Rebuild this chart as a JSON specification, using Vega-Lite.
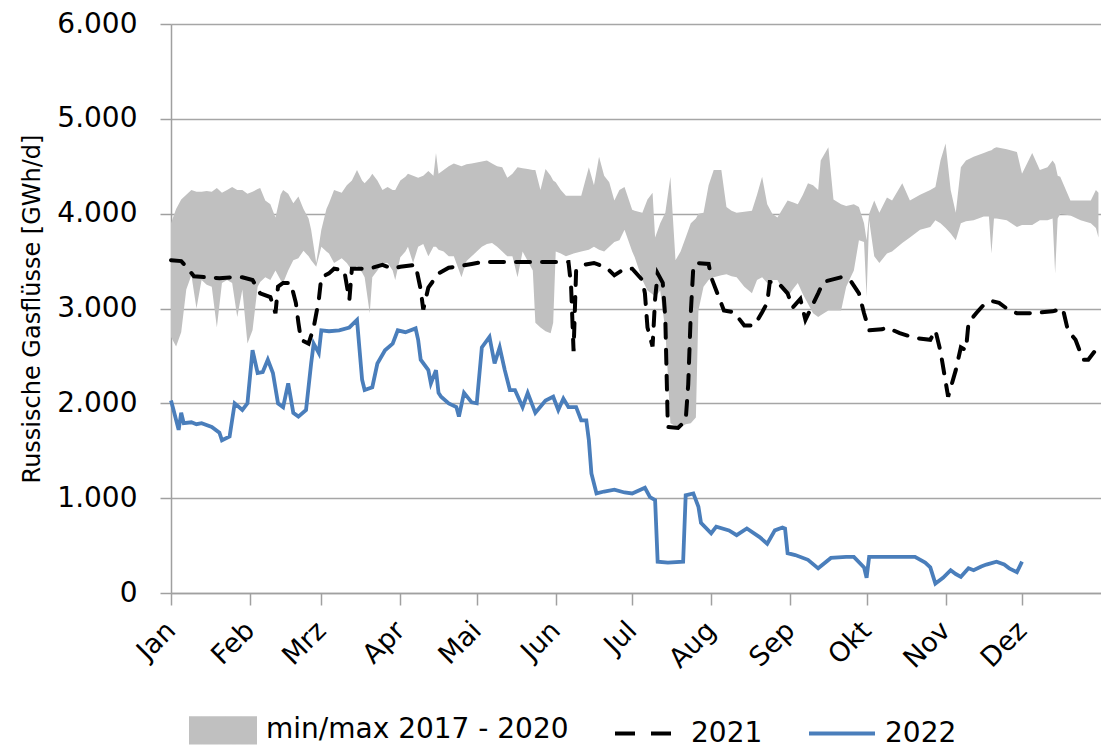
{
  "$schema": "https://vega.github.io/schema/vega-lite/v6.json",
  "width": 930,
  "height": 569,
  "autosize": "none",
  "padding": {"left": 171, "top": 24, "right": 0, "bottom": 159},
  "background": "white",
  "config": {
    "view": {"stroke": null},
    "font": "DejaVu Sans",
    "axis": {"labelColor": "#000000", "titleColor": "#000000", "domainColor": "#a0a0a0", "tickColor": "#a0a0a0", "gridColor": "#a6a6a6", "domainWidth": 1.5, "tickWidth": 1.5, "gridWidth": 1.5, "labelFont": "DejaVu Sans", "titleFont": "DejaVu Sans"},
    "legend": {
      "orient": "none", "legendX": 17, "legendY": 671, "direction": "horizontal", "padding": 0,
      "labelFont": "DejaVu Sans", "labelFontSize": 28, "labelColor": "#000000", "labelOffset": 8, "labelLimit": 0,
      "columnPadding": 38, "symbolSize": 4356, "symbolStrokeWidth": 4
    }
  },
  "datasets": {
    "band": [
      {"d": "2022-01-01", "lo": 2700, "hi": 3900},
      {"d": "2022-01-03", "lo": 2600, "hi": 4050},
      {"d": "2022-01-05", "lo": 2750, "hi": 4150},
      {"d": "2022-01-07", "lo": 3200, "hi": 4200},
      {"d": "2022-01-09", "lo": 3350, "hi": 4250},
      {"d": "2022-01-11", "lo": 3000, "hi": 4230},
      {"d": "2022-01-13", "lo": 3300, "hi": 4230},
      {"d": "2022-01-15", "lo": 3250, "hi": 4240},
      {"d": "2022-01-17", "lo": 3230, "hi": 4230},
      {"d": "2022-01-19", "lo": 2800, "hi": 4270},
      {"d": "2022-01-21", "lo": 3270, "hi": 4220},
      {"d": "2022-01-23", "lo": 3300, "hi": 4250},
      {"d": "2022-01-25", "lo": 3270, "hi": 4280},
      {"d": "2022-01-27", "lo": 2910, "hi": 4250},
      {"d": "2022-01-29", "lo": 3200, "hi": 4250},
      {"d": "2022-01-31", "lo": 2630, "hi": 4210},
      {"d": "2022-02-02", "lo": 2770, "hi": 4230},
      {"d": "2022-02-04", "lo": 3230, "hi": 4260},
      {"d": "2022-02-05", "lo": 3280, "hi": 4270},
      {"d": "2022-02-07", "lo": 3330, "hi": 4140},
      {"d": "2022-02-09", "lo": 3300, "hi": 4100},
      {"d": "2022-02-11", "lo": 3400, "hi": 3960},
      {"d": "2022-02-13", "lo": 3300, "hi": 4200},
      {"d": "2022-02-14", "lo": 3270, "hi": 4250},
      {"d": "2022-02-16", "lo": 3400, "hi": 4210},
      {"d": "2022-02-18", "lo": 3510, "hi": 4110},
      {"d": "2022-02-20", "lo": 3530, "hi": 4180},
      {"d": "2022-02-22", "lo": 3610, "hi": 4050},
      {"d": "2022-02-24", "lo": 3550, "hi": 3950},
      {"d": "2022-02-25", "lo": 3510, "hi": 3830},
      {"d": "2022-02-27", "lo": 3440, "hi": 3480},
      {"d": "2022-03-01", "lo": 3650, "hi": 3830},
      {"d": "2022-03-03", "lo": 3600, "hi": 4050},
      {"d": "2022-03-04", "lo": 3580, "hi": 4110},
      {"d": "2022-03-06", "lo": 3480, "hi": 4250},
      {"d": "2022-03-09", "lo": 3530, "hi": 4220},
      {"d": "2022-03-11", "lo": 3480, "hi": 4300},
      {"d": "2022-03-13", "lo": 3400, "hi": 4350},
      {"d": "2022-03-15", "lo": 3450, "hi": 4460},
      {"d": "2022-03-17", "lo": 3380, "hi": 4350},
      {"d": "2022-03-18", "lo": 3330, "hi": 4320},
      {"d": "2022-03-20", "lo": 2950, "hi": 4380},
      {"d": "2022-03-21", "lo": 3330, "hi": 4420},
      {"d": "2022-03-23", "lo": 3400, "hi": 4350},
      {"d": "2022-03-25", "lo": 3480, "hi": 4250},
      {"d": "2022-03-27", "lo": 3480, "hi": 4280},
      {"d": "2022-03-29", "lo": 3400, "hi": 4250},
      {"d": "2022-03-30", "lo": 3300, "hi": 4250},
      {"d": "2022-04-01", "lo": 3540, "hi": 4350},
      {"d": "2022-04-03", "lo": 3600, "hi": 4390},
      {"d": "2022-04-04", "lo": 3650, "hi": 4420},
      {"d": "2022-04-06", "lo": 3480, "hi": 4400},
      {"d": "2022-04-08", "lo": 3650, "hi": 4380},
      {"d": "2022-04-10", "lo": 3680, "hi": 4400},
      {"d": "2022-04-12", "lo": 3550, "hi": 4450},
      {"d": "2022-04-14", "lo": 3650, "hi": 4400},
      {"d": "2022-04-15", "lo": 3650, "hi": 4640},
      {"d": "2022-04-16", "lo": 3620, "hi": 4420},
      {"d": "2022-04-18", "lo": 3600, "hi": 4460},
      {"d": "2022-04-20", "lo": 3550, "hi": 4500},
      {"d": "2022-04-22", "lo": 3550, "hi": 4530},
      {"d": "2022-04-25", "lo": 3330, "hi": 4500},
      {"d": "2022-04-27", "lo": 3500, "hi": 4520},
      {"d": "2022-04-29", "lo": 3550, "hi": 4530},
      {"d": "2022-05-01", "lo": 3600, "hi": 4540},
      {"d": "2022-05-03", "lo": 3650, "hi": 4550},
      {"d": "2022-05-05", "lo": 3680, "hi": 4560},
      {"d": "2022-05-07", "lo": 3690, "hi": 4530},
      {"d": "2022-05-09", "lo": 3650, "hi": 4500},
      {"d": "2022-05-11", "lo": 3600, "hi": 4490},
      {"d": "2022-05-13", "lo": 3550, "hi": 4380},
      {"d": "2022-05-15", "lo": 3550, "hi": 4420},
      {"d": "2022-05-17", "lo": 3330, "hi": 4490},
      {"d": "2022-05-19", "lo": 3600, "hi": 4480},
      {"d": "2022-05-21", "lo": 3500, "hi": 4470},
      {"d": "2022-05-23", "lo": 3400, "hi": 4460},
      {"d": "2022-05-24", "lo": 2850, "hi": 4460},
      {"d": "2022-05-26", "lo": 2800, "hi": 4250},
      {"d": "2022-05-28", "lo": 2760, "hi": 4470},
      {"d": "2022-05-30", "lo": 2740, "hi": 4400},
      {"d": "2022-05-31", "lo": 2850, "hi": 4350},
      {"d": "2022-06-01", "lo": 3600, "hi": 4330},
      {"d": "2022-06-03", "lo": 3580, "hi": 4250},
      {"d": "2022-06-05", "lo": 3550, "hi": 4190},
      {"d": "2022-06-08", "lo": 3580, "hi": 4190},
      {"d": "2022-06-11", "lo": 3600, "hi": 4190},
      {"d": "2022-06-14", "lo": 3620, "hi": 4490},
      {"d": "2022-06-16", "lo": 3650, "hi": 4300},
      {"d": "2022-06-18", "lo": 3620, "hi": 4600},
      {"d": "2022-06-20", "lo": 3600, "hi": 4400},
      {"d": "2022-06-22", "lo": 3650, "hi": 4330},
      {"d": "2022-06-24", "lo": 3700, "hi": 4140},
      {"d": "2022-06-26", "lo": 3720, "hi": 4250},
      {"d": "2022-06-28", "lo": 3830, "hi": 4280},
      {"d": "2022-07-01", "lo": 3600, "hi": 4040},
      {"d": "2022-07-02", "lo": 3540, "hi": 4030},
      {"d": "2022-07-05", "lo": 3300, "hi": 4010},
      {"d": "2022-07-07", "lo": 3190, "hi": 4150},
      {"d": "2022-07-09", "lo": 3150, "hi": 4220},
      {"d": "2022-07-10", "lo": 3120, "hi": 3750},
      {"d": "2022-07-12", "lo": 3190, "hi": 3900},
      {"d": "2022-07-14", "lo": 2770, "hi": 4010},
      {"d": "2022-07-15", "lo": 2300, "hi": 4200},
      {"d": "2022-07-16", "lo": 1790, "hi": 4390},
      {"d": "2022-07-18", "lo": 1760, "hi": 3510},
      {"d": "2022-07-20", "lo": 1750, "hi": 3600},
      {"d": "2022-07-22", "lo": 1780, "hi": 3750},
      {"d": "2022-07-24", "lo": 1790, "hi": 3900},
      {"d": "2022-07-26", "lo": 1850, "hi": 3950},
      {"d": "2022-07-27", "lo": 2980, "hi": 4000},
      {"d": "2022-07-29", "lo": 3230, "hi": 4010},
      {"d": "2022-07-31", "lo": 3300, "hi": 4300},
      {"d": "2022-08-02", "lo": 3330, "hi": 4460},
      {"d": "2022-08-05", "lo": 3350, "hi": 4460},
      {"d": "2022-08-07", "lo": 3360, "hi": 4070},
      {"d": "2022-08-09", "lo": 3340, "hi": 4030},
      {"d": "2022-08-11", "lo": 3330, "hi": 4010},
      {"d": "2022-08-14", "lo": 3230, "hi": 4020},
      {"d": "2022-08-17", "lo": 3160, "hi": 4030},
      {"d": "2022-08-19", "lo": 3300, "hi": 4200},
      {"d": "2022-08-21", "lo": 3330, "hi": 4390},
      {"d": "2022-08-23", "lo": 3270, "hi": 4100},
      {"d": "2022-08-25", "lo": 3300, "hi": 4000},
      {"d": "2022-08-27", "lo": 3300, "hi": 3960},
      {"d": "2022-08-29", "lo": 3200, "hi": 4050},
      {"d": "2022-08-31", "lo": 3120, "hi": 4140},
      {"d": "2022-09-02", "lo": 3200, "hi": 4120},
      {"d": "2022-09-04", "lo": 3270, "hi": 4100},
      {"d": "2022-09-06", "lo": 3150, "hi": 4200},
      {"d": "2022-09-08", "lo": 3050, "hi": 4320},
      {"d": "2022-09-10", "lo": 2950, "hi": 4300},
      {"d": "2022-09-12", "lo": 2910, "hi": 4250},
      {"d": "2022-09-13", "lo": 2930, "hi": 4560},
      {"d": "2022-09-16", "lo": 2980, "hi": 4700},
      {"d": "2022-09-18", "lo": 2980, "hi": 4150},
      {"d": "2022-09-21", "lo": 2980, "hi": 4100},
      {"d": "2022-09-23", "lo": 3230, "hi": 4080},
      {"d": "2022-09-26", "lo": 3400, "hi": 4100},
      {"d": "2022-09-28", "lo": 3720, "hi": 4070},
      {"d": "2022-09-30", "lo": 3700, "hi": 3900},
      {"d": "2022-10-01", "lo": 3120, "hi": 3720},
      {"d": "2022-10-02", "lo": 3930, "hi": 4000},
      {"d": "2022-10-04", "lo": 3550, "hi": 4140},
      {"d": "2022-10-06", "lo": 3480, "hi": 4010},
      {"d": "2022-10-09", "lo": 3580, "hi": 4170},
      {"d": "2022-10-11", "lo": 3600, "hi": 4140},
      {"d": "2022-10-15", "lo": 3690, "hi": 4320},
      {"d": "2022-10-18", "lo": 3750, "hi": 4140},
      {"d": "2022-10-22", "lo": 3830, "hi": 4200},
      {"d": "2022-10-26", "lo": 3860, "hi": 4250},
      {"d": "2022-10-28", "lo": 3930, "hi": 4280},
      {"d": "2022-10-30", "lo": 3900, "hi": 4560},
      {"d": "2022-11-01", "lo": 3850, "hi": 4740},
      {"d": "2022-11-03", "lo": 3790, "hi": 4250},
      {"d": "2022-11-05", "lo": 3720, "hi": 4010},
      {"d": "2022-11-07", "lo": 3900, "hi": 4490},
      {"d": "2022-11-09", "lo": 3920, "hi": 4560},
      {"d": "2022-11-12", "lo": 3930, "hi": 4600},
      {"d": "2022-11-16", "lo": 3970, "hi": 4640},
      {"d": "2022-11-18", "lo": 3970, "hi": 4660},
      {"d": "2022-11-19", "lo": 3580, "hi": 4670},
      {"d": "2022-11-20", "lo": 3950, "hi": 4690},
      {"d": "2022-11-21", "lo": 3950, "hi": 4700},
      {"d": "2022-11-25", "lo": 3930, "hi": 4680},
      {"d": "2022-11-29", "lo": 3860, "hi": 4650},
      {"d": "2022-12-01", "lo": 3880, "hi": 4420},
      {"d": "2022-12-05", "lo": 3880, "hi": 4640},
      {"d": "2022-12-08", "lo": 3930, "hi": 4460},
      {"d": "2022-12-11", "lo": 3930, "hi": 4490},
      {"d": "2022-12-13", "lo": 3950, "hi": 4560},
      {"d": "2022-12-14", "lo": 3370, "hi": 4520},
      {"d": "2022-12-15", "lo": 3950, "hi": 4400},
      {"d": "2022-12-16", "lo": 4000, "hi": 4390},
      {"d": "2022-12-20", "lo": 3980, "hi": 4140},
      {"d": "2022-12-24", "lo": 3930, "hi": 4140},
      {"d": "2022-12-28", "lo": 3900, "hi": 4140},
      {"d": "2022-12-30", "lo": 3850, "hi": 4250},
      {"d": "2022-12-31", "lo": 3750, "hi": 4220}
    ],
    "y2021": [
      {"d": "2022-01-01", "v": 3510},
      {"d": "2022-01-05", "v": 3500},
      {"d": "2022-01-07", "v": 3440},
      {"d": "2022-01-10", "v": 3340},
      {"d": "2022-01-15", "v": 3330},
      {"d": "2022-01-20", "v": 3320},
      {"d": "2022-01-25", "v": 3330},
      {"d": "2022-01-29", "v": 3330},
      {"d": "2022-02-02", "v": 3300},
      {"d": "2022-02-05", "v": 3160},
      {"d": "2022-02-09", "v": 3120},
      {"d": "2022-02-11", "v": 2950},
      {"d": "2022-02-12", "v": 3230},
      {"d": "2022-02-14", "v": 3270},
      {"d": "2022-02-17", "v": 3270},
      {"d": "2022-02-19", "v": 3060},
      {"d": "2022-02-20", "v": 2850},
      {"d": "2022-02-21", "v": 2670},
      {"d": "2022-02-24", "v": 2630},
      {"d": "2022-02-26", "v": 2800},
      {"d": "2022-02-28", "v": 3090},
      {"d": "2022-03-01", "v": 3330},
      {"d": "2022-03-04", "v": 3370},
      {"d": "2022-03-06", "v": 3420},
      {"d": "2022-03-10", "v": 3400},
      {"d": "2022-03-12", "v": 3090},
      {"d": "2022-03-13", "v": 3420},
      {"d": "2022-03-17", "v": 3420},
      {"d": "2022-03-21", "v": 3430},
      {"d": "2022-03-25", "v": 3460},
      {"d": "2022-03-29", "v": 3420},
      {"d": "2022-04-01", "v": 3440},
      {"d": "2022-04-07", "v": 3460},
      {"d": "2022-04-09", "v": 3200},
      {"d": "2022-04-10", "v": 2990},
      {"d": "2022-04-12", "v": 3220},
      {"d": "2022-04-16", "v": 3370},
      {"d": "2022-04-20", "v": 3430},
      {"d": "2022-04-25", "v": 3450},
      {"d": "2022-04-29", "v": 3470},
      {"d": "2022-05-03", "v": 3490},
      {"d": "2022-05-31", "v": 3490},
      {"d": "2022-06-06", "v": 3490},
      {"d": "2022-06-07", "v": 3250},
      {"d": "2022-06-08", "v": 2550},
      {"d": "2022-06-09", "v": 3400},
      {"d": "2022-06-12", "v": 3460},
      {"d": "2022-06-16", "v": 3480},
      {"d": "2022-06-21", "v": 3430},
      {"d": "2022-06-24", "v": 3350},
      {"d": "2022-06-28", "v": 3420},
      {"d": "2022-07-01", "v": 3420},
      {"d": "2022-07-05", "v": 3300},
      {"d": "2022-07-06", "v": 3160},
      {"d": "2022-07-07", "v": 2800},
      {"d": "2022-07-09", "v": 2600},
      {"d": "2022-07-10", "v": 3100},
      {"d": "2022-07-11", "v": 3370},
      {"d": "2022-07-13", "v": 3270},
      {"d": "2022-07-14", "v": 2900},
      {"d": "2022-07-15", "v": 1750},
      {"d": "2022-07-19", "v": 1740},
      {"d": "2022-07-22", "v": 1820},
      {"d": "2022-07-23", "v": 2200},
      {"d": "2022-07-24", "v": 2950},
      {"d": "2022-07-25", "v": 3440},
      {"d": "2022-07-26", "v": 3480},
      {"d": "2022-07-31", "v": 3470},
      {"d": "2022-08-01", "v": 3330},
      {"d": "2022-08-03", "v": 3190},
      {"d": "2022-08-06", "v": 2980},
      {"d": "2022-08-10", "v": 2960},
      {"d": "2022-08-14", "v": 2820},
      {"d": "2022-08-18", "v": 2820},
      {"d": "2022-08-21", "v": 2960},
      {"d": "2022-08-23", "v": 3060},
      {"d": "2022-08-24", "v": 3280},
      {"d": "2022-08-27", "v": 3280},
      {"d": "2022-08-31", "v": 3160},
      {"d": "2022-09-02", "v": 3010},
      {"d": "2022-09-05", "v": 3100},
      {"d": "2022-09-07", "v": 2880},
      {"d": "2022-09-12", "v": 3160},
      {"d": "2022-09-14", "v": 3280},
      {"d": "2022-09-21", "v": 3330},
      {"d": "2022-09-25", "v": 3280},
      {"d": "2022-09-28", "v": 3160},
      {"d": "2022-09-30", "v": 2950},
      {"d": "2022-10-02", "v": 2770},
      {"d": "2022-10-07", "v": 2780},
      {"d": "2022-10-09", "v": 2800},
      {"d": "2022-10-14", "v": 2740},
      {"d": "2022-10-20", "v": 2690},
      {"d": "2022-10-26", "v": 2670},
      {"d": "2022-10-28", "v": 2770},
      {"d": "2022-10-30", "v": 2550},
      {"d": "2022-11-02", "v": 2070},
      {"d": "2022-11-05", "v": 2350},
      {"d": "2022-11-07", "v": 2590},
      {"d": "2022-11-09", "v": 2560},
      {"d": "2022-11-10", "v": 2850},
      {"d": "2022-11-13", "v": 2950},
      {"d": "2022-11-16", "v": 3040},
      {"d": "2022-11-19", "v": 3080},
      {"d": "2022-11-22", "v": 3060},
      {"d": "2022-11-26", "v": 2980},
      {"d": "2022-11-29", "v": 2950},
      {"d": "2022-12-04", "v": 2950},
      {"d": "2022-12-13", "v": 2970},
      {"d": "2022-12-17", "v": 3000},
      {"d": "2022-12-19", "v": 2770},
      {"d": "2022-12-22", "v": 2670},
      {"d": "2022-12-25", "v": 2460},
      {"d": "2022-12-27", "v": 2460},
      {"d": "2022-12-31", "v": 2600}
    ],
    "y2022": [
      {"d": "2022-01-01", "v": 2030},
      {"d": "2022-01-02", "v": 1930},
      {"d": "2022-01-04", "v": 1720},
      {"d": "2022-01-05", "v": 1900},
      {"d": "2022-01-06", "v": 1790},
      {"d": "2022-01-09", "v": 1800},
      {"d": "2022-01-11", "v": 1780},
      {"d": "2022-01-13", "v": 1790},
      {"d": "2022-01-17", "v": 1750},
      {"d": "2022-01-20", "v": 1690},
      {"d": "2022-01-21", "v": 1610},
      {"d": "2022-01-24", "v": 1650},
      {"d": "2022-01-26", "v": 2000},
      {"d": "2022-01-29", "v": 1930},
      {"d": "2022-01-31", "v": 2000},
      {"d": "2022-02-02", "v": 2560},
      {"d": "2022-02-04", "v": 2320},
      {"d": "2022-02-06", "v": 2330},
      {"d": "2022-02-08", "v": 2460},
      {"d": "2022-02-10", "v": 2320},
      {"d": "2022-02-12", "v": 2000},
      {"d": "2022-02-14", "v": 1960},
      {"d": "2022-02-16", "v": 2210},
      {"d": "2022-02-18", "v": 1900},
      {"d": "2022-02-20", "v": 1860},
      {"d": "2022-02-23", "v": 1930},
      {"d": "2022-02-25", "v": 2420},
      {"d": "2022-02-26", "v": 2630},
      {"d": "2022-02-28", "v": 2530},
      {"d": "2022-03-01", "v": 2770},
      {"d": "2022-03-04", "v": 2760},
      {"d": "2022-03-08", "v": 2770},
      {"d": "2022-03-12", "v": 2800},
      {"d": "2022-03-15", "v": 2880},
      {"d": "2022-03-17", "v": 2250},
      {"d": "2022-03-18", "v": 2140},
      {"d": "2022-03-21", "v": 2170},
      {"d": "2022-03-23", "v": 2420},
      {"d": "2022-03-26", "v": 2560},
      {"d": "2022-03-29", "v": 2630},
      {"d": "2022-03-31", "v": 2770},
      {"d": "2022-04-03", "v": 2750},
      {"d": "2022-04-07", "v": 2790},
      {"d": "2022-04-08", "v": 2670},
      {"d": "2022-04-09", "v": 2460},
      {"d": "2022-04-12", "v": 2350},
      {"d": "2022-04-13", "v": 2210},
      {"d": "2022-04-15", "v": 2350},
      {"d": "2022-04-16", "v": 2110},
      {"d": "2022-04-17", "v": 2070},
      {"d": "2022-04-20", "v": 2000},
      {"d": "2022-04-23", "v": 1960},
      {"d": "2022-04-24", "v": 1860},
      {"d": "2022-04-26", "v": 2110},
      {"d": "2022-04-29", "v": 2010},
      {"d": "2022-05-01", "v": 2000},
      {"d": "2022-05-03", "v": 2590},
      {"d": "2022-05-06", "v": 2700},
      {"d": "2022-05-08", "v": 2420},
      {"d": "2022-05-10", "v": 2590},
      {"d": "2022-05-12", "v": 2350},
      {"d": "2022-05-14", "v": 2140},
      {"d": "2022-05-16", "v": 2140},
      {"d": "2022-05-19", "v": 1960},
      {"d": "2022-05-21", "v": 2110},
      {"d": "2022-05-24", "v": 1900},
      {"d": "2022-05-28", "v": 2030},
      {"d": "2022-05-31", "v": 2070},
      {"d": "2022-06-02", "v": 1930},
      {"d": "2022-06-04", "v": 2050},
      {"d": "2022-06-06", "v": 1960},
      {"d": "2022-06-09", "v": 1960},
      {"d": "2022-06-11", "v": 1820},
      {"d": "2022-06-13", "v": 1820},
      {"d": "2022-06-14", "v": 1610},
      {"d": "2022-06-15", "v": 1260},
      {"d": "2022-06-17", "v": 1050},
      {"d": "2022-06-20", "v": 1070},
      {"d": "2022-06-24", "v": 1090},
      {"d": "2022-06-28", "v": 1060},
      {"d": "2022-07-01", "v": 1050},
      {"d": "2022-07-06", "v": 1110},
      {"d": "2022-07-08", "v": 1010},
      {"d": "2022-07-10", "v": 980},
      {"d": "2022-07-11", "v": 330},
      {"d": "2022-07-15", "v": 320},
      {"d": "2022-07-21", "v": 330},
      {"d": "2022-07-22", "v": 1030},
      {"d": "2022-07-25", "v": 1050},
      {"d": "2022-07-27", "v": 910},
      {"d": "2022-07-28", "v": 740},
      {"d": "2022-08-01", "v": 630},
      {"d": "2022-08-03", "v": 700},
      {"d": "2022-08-08", "v": 660},
      {"d": "2022-08-11", "v": 610},
      {"d": "2022-08-15", "v": 680},
      {"d": "2022-08-20", "v": 590},
      {"d": "2022-08-23", "v": 520},
      {"d": "2022-08-26", "v": 660},
      {"d": "2022-08-29", "v": 690},
      {"d": "2022-08-30", "v": 680},
      {"d": "2022-08-31", "v": 420},
      {"d": "2022-09-03", "v": 400},
      {"d": "2022-09-08", "v": 350},
      {"d": "2022-09-12", "v": 260},
      {"d": "2022-09-17", "v": 370},
      {"d": "2022-09-23", "v": 380},
      {"d": "2022-09-26", "v": 380},
      {"d": "2022-09-30", "v": 270},
      {"d": "2022-10-01", "v": 160},
      {"d": "2022-10-02", "v": 380},
      {"d": "2022-10-11", "v": 380},
      {"d": "2022-10-20", "v": 380},
      {"d": "2022-10-24", "v": 320},
      {"d": "2022-10-26", "v": 270},
      {"d": "2022-10-28", "v": 100},
      {"d": "2022-10-31", "v": 160},
      {"d": "2022-11-03", "v": 240},
      {"d": "2022-11-05", "v": 200},
      {"d": "2022-11-07", "v": 170},
      {"d": "2022-11-10", "v": 260},
      {"d": "2022-11-12", "v": 240},
      {"d": "2022-11-15", "v": 280},
      {"d": "2022-11-17", "v": 300},
      {"d": "2022-11-21", "v": 330},
      {"d": "2022-11-24", "v": 300},
      {"d": "2022-11-26", "v": 260},
      {"d": "2022-11-29", "v": 220},
      {"d": "2022-12-01", "v": 330}
    ]
  },
  "layer": [
    {
      "data": {"name": "band"},
      "mark": {"type": "area", "opacity": 1},
      "encoding": {
        "x": {
          "field": "d", "type": "temporal",
          "scale": {"type": "utc", "domain": [{"year": 2022, "month": 1, "date": 1, "utc": true}, {"year": 2023, "month": 1, "date": 1, "utc": true}]},
          "axis": {
            "title": null, "grid": false,
            "values": [
              {"year": 2022, "month": 1, "date": 1, "utc": true},
              {"year": 2022, "month": 2, "date": 1, "utc": true},
              {"year": 2022, "month": 3, "date": 1, "utc": true},
              {"year": 2022, "month": 4, "date": 1, "utc": true},
              {"year": 2022, "month": 5, "date": 1, "utc": true},
              {"year": 2022, "month": 6, "date": 1, "utc": true},
              {"year": 2022, "month": 7, "date": 1, "utc": true},
              {"year": 2022, "month": 8, "date": 1, "utc": true},
              {"year": 2022, "month": 9, "date": 1, "utc": true},
              {"year": 2022, "month": 10, "date": 1, "utc": true},
              {"year": 2022, "month": 11, "date": 1, "utc": true},
              {"year": 2022, "month": 12, "date": 1, "utc": true}
            ],
            "labelExpr": "['Jan','Feb','Mrz','Apr','Mai','Jun','Jul','Aug','Sep','Okt','Nov','Dez'][utcmonth(datum.value)]",
            "labelAngle": -45, "labelAlign": "right", "labelBaseline": "middle",
            "labelFontSize": 27, "labelPadding": 21, "tickSize": 12,
            "labelFlush": false, "labelOverlap": false
          }
        },
        "y": {
          "field": "lo", "type": "quantitative",
          "scale": {"domain": [0, 6000], "nice": false, "zero": true},
          "axis": {
            "title": "Russische Gasflüsse [GWh/d]", "titleFontSize": 24, "titleFontWeight": "normal", "titlePadding": 12,
            "values": [0, 1000, 2000, 3000, 4000, 5000, 6000],
            "labelExpr": "datum.value === 0 ? '0' : replace(format(datum.value, ','), ',', '.')",
            "labelFontSize": 28, "labelPadding": 23, "tickSize": 11, "grid": true
          }
        },
        "y2": {"field": "hi"},
        "color": {
          "datum": "min/max 2017 - 2020", "type": "nominal",
          "scale": {"domain": ["min/max 2017 - 2020", "2021", "2022"], "range": ["#c0c0c0", "#000000", "#4a7ebb"]},
          "legend": {
            "title": null,
            "encode": {
              "symbols": {
                "update": {
                  "shape": {"signal": "datum.value === 'min/max 2017 - 2020' ? 'M-0.97,-0.37H0.97V0.37H-0.97Z' : 'stroke'"},
                  "fill": {"signal": "datum.value === 'min/max 2017 - 2020' ? '#c0c0c0' : 'transparent'"},
                  "stroke": {"signal": "datum.value === '2021' ? '#000000' : (datum.value === '2022' ? '#4a7ebb' : 'transparent')"},
                  "strokeDash": {"signal": "datum.value === '2021' ? [20,16] : [1,0]"},
                  "strokeWidth": {"value": 4},
                  "opacity": {"value": 1},
                  "fillOpacity": {"value": 1},
                  "strokeOpacity": {"value": 1}
                }
              }
            }
          }
        }
      }
    },
    {
      "data": {"name": "y2021"},
      "mark": {"type": "line", "strokeWidth": 4, "strokeDash": [14, 12], "strokeCap": "round"},
      "encoding": {
        "x": {"field": "d", "type": "temporal"},
        "y": {"field": "v", "type": "quantitative"},
        "color": {
          "datum": "2021", "type": "nominal",
          "legend": {
            "title": null,
            "encode": {
              "symbols": {
                "update": {
                  "shape": {"signal": "datum.value === 'min/max 2017 - 2020' ? 'M-0.97,-0.37H0.97V0.37H-0.97Z' : 'stroke'"},
                  "fill": {"signal": "datum.value === 'min/max 2017 - 2020' ? '#c0c0c0' : 'transparent'"},
                  "stroke": {"signal": "datum.value === '2021' ? '#000000' : (datum.value === '2022' ? '#4a7ebb' : 'transparent')"},
                  "strokeDash": {"signal": "datum.value === '2021' ? [20,16] : [1,0]"},
                  "strokeWidth": {"value": 4},
                  "opacity": {"value": 1},
                  "fillOpacity": {"value": 1},
                  "strokeOpacity": {"value": 1}
                }
              }
            }
          }
        }
      }
    },
    {
      "data": {"name": "y2022"},
      "mark": {"type": "line", "strokeWidth": 3.8},
      "encoding": {
        "x": {"field": "d", "type": "temporal"},
        "y": {"field": "v", "type": "quantitative"},
        "color": {
          "datum": "2022", "type": "nominal",
          "legend": {
            "title": null,
            "encode": {
              "symbols": {
                "update": {
                  "shape": {"signal": "datum.value === 'min/max 2017 - 2020' ? 'M-0.97,-0.37H0.97V0.37H-0.97Z' : 'stroke'"},
                  "fill": {"signal": "datum.value === 'min/max 2017 - 2020' ? '#c0c0c0' : 'transparent'"},
                  "stroke": {"signal": "datum.value === '2021' ? '#000000' : (datum.value === '2022' ? '#4a7ebb' : 'transparent')"},
                  "strokeDash": {"signal": "datum.value === '2021' ? [20,16] : [1,0]"},
                  "strokeWidth": {"value": 4},
                  "opacity": {"value": 1},
                  "fillOpacity": {"value": 1},
                  "strokeOpacity": {"value": 1}
                }
              }
            }
          }
        }
      }
    }
  ]
}
